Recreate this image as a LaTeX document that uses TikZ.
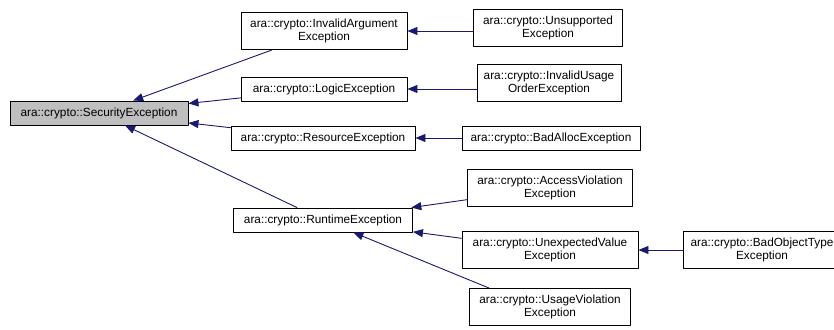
\documentclass[tikz,border=0pt]{standalone}
\usepackage{fontspec}
\setmainfont{Liberation Sans}
\usetikzlibrary{arrows.meta}
\definecolor{edgeblue}{RGB}{25,25,112}

\begin{document}
\begin{tikzpicture}[line cap=round,line join=round,x=1pt,y=-1pt,
  cls/.style={draw=black,fill=white,line width=0.9pt,align=center,inner sep=2pt,
    minimum height=24pt,font=\fontsize{11.8}{12.6}\selectfont},
  cls2/.style={cls,minimum height=37pt},
  edge/.style={draw=edgeblue,line width=0.9pt,-{Triangle[length=10pt,width=8pt]}}]
\useasboundingbox (0,0) rectangle (834,329);
\clip (0,0) rectangle (834,329);

% base class
\node[cls,fill=black!25,minimum width=178pt] (sec) at (99,113) {ara::crypto::SecurityException};

% first level
\node[cls2,minimum width=166pt] (ia) at (324,31) {ara::crypto::InvalidArgument\\Exception};
\node[cls,minimum width=166pt] (logic) at (324,89) {ara::crypto::LogicException};
\node[cls,minimum width=184pt] (res) at (323,138) {ara::crypto::ResourceException};
\node[cls,minimum width=179pt] (rt) at (323,220) {ara::crypto::RuntimeException};

% second level
\node[cls2,minimum width=149pt] (uns) at (548,28) {ara::crypto::Unsupported\\Exception};
\node[cls2,minimum width=144pt] (iuo) at (549,83) {ara::crypto::InvalidUsage\\OrderException};
\node[cls,minimum width=178pt] (bad) at (551,138) {ara::crypto::BadAllocException};
\node[cls2,minimum width=165pt] (av) at (550,188) {ara::crypto::AccessViolation\\Exception};
\node[cls2,minimum width=176pt] (uv) at (550,250) {ara::crypto::UnexpectedValue\\Exception};
\node[cls2,minimum width=161pt] (usv) at (550,307) {ara::crypto::UsageViolation\\Exception};

% third level (runs past the right edge)
\node[cls2,minimum width=158pt] (bot) at (762,250) {ara::crypto::BadObjectType\\Exception};

% inheritance
\draw[edge] (ia) -- (sec);
\draw[edge] (logic) -- (sec);
\draw[edge] (res) -- (sec);
\draw[edge] (rt) -- (sec);
\draw[edge] (uns.west |- ia.east) -- (ia.east);
\draw[edge] (iuo.west |- logic.east) -- (logic.east);
\draw[edge] (bad) -- (res);
\draw[edge] (av) -- (rt);
\draw[edge] (uv) -- (rt);
\draw[edge] ([xshift=20pt]usv.north west) -- (rt);
\draw[edge] (bot) -- (uv);

\end{tikzpicture}
\end{document}
